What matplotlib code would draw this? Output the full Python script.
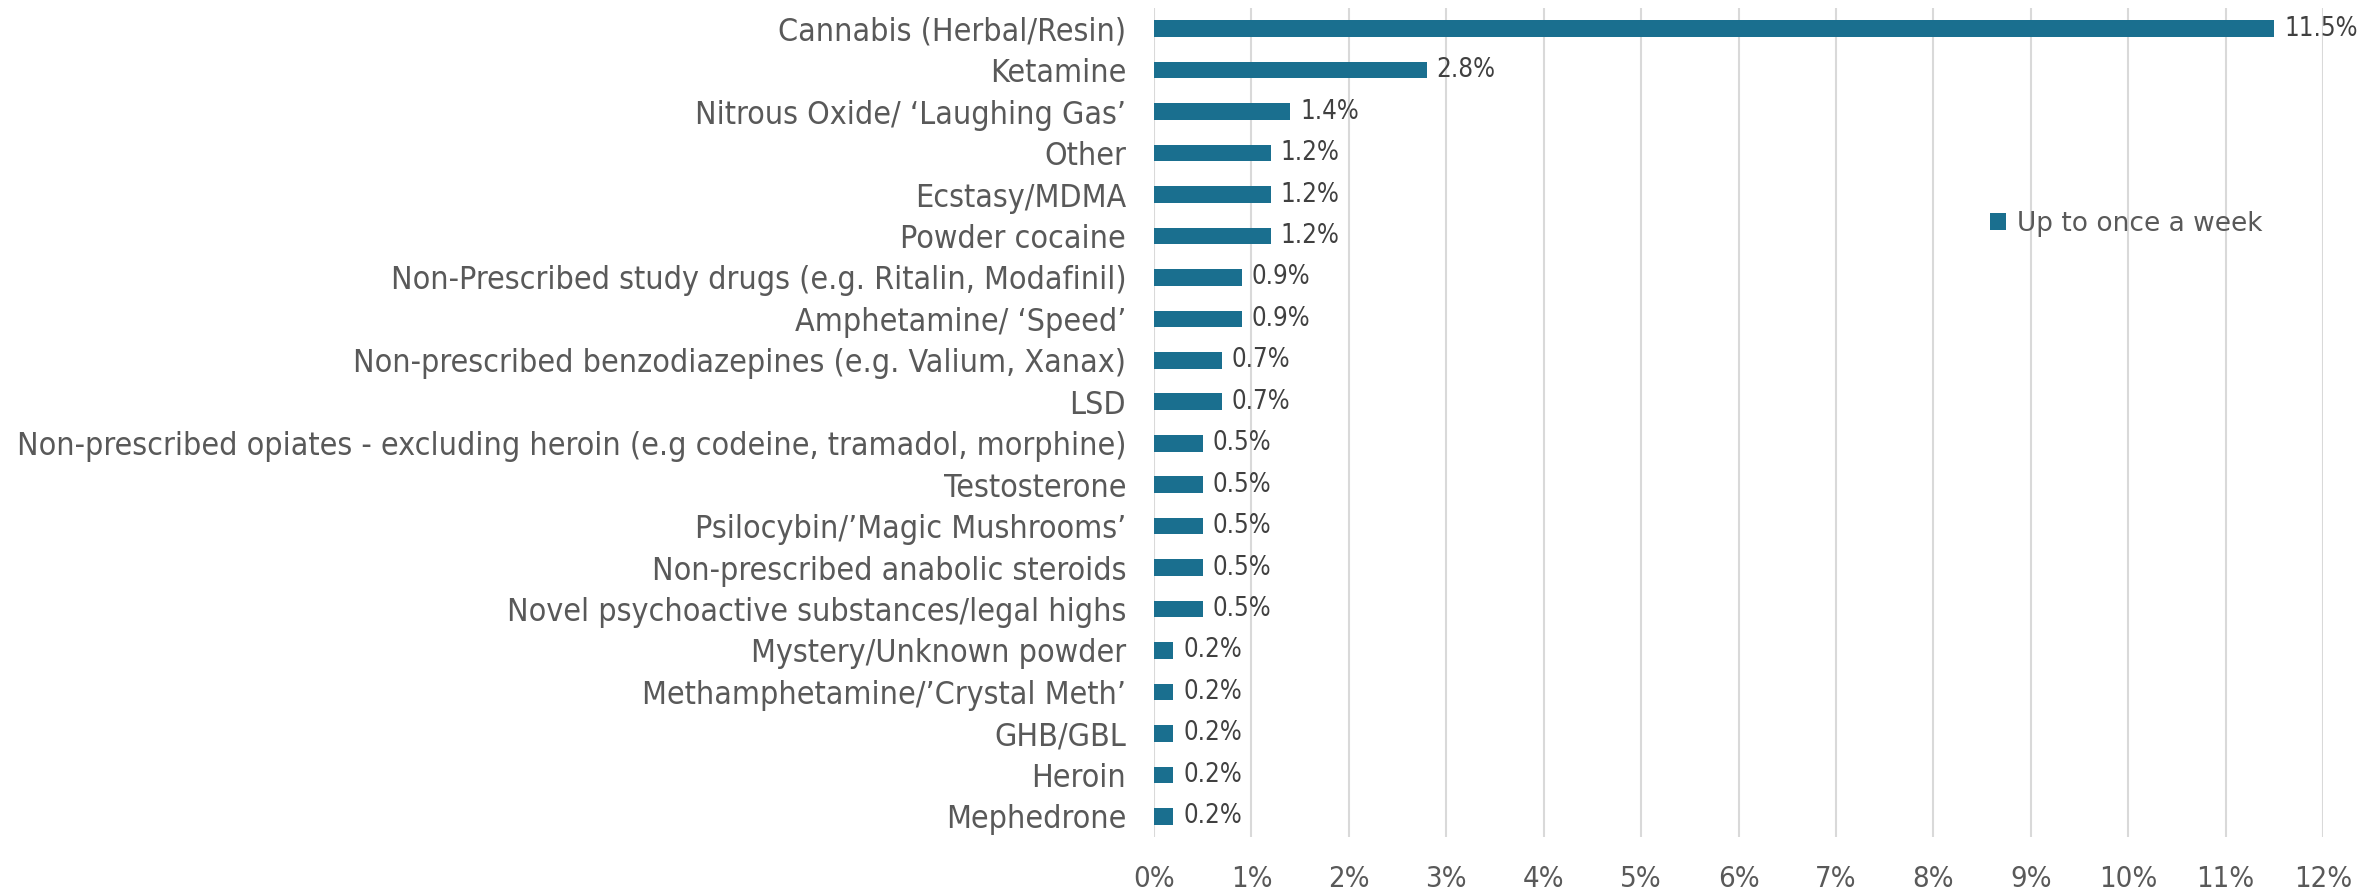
import matplotlib
matplotlib.use('Agg')
from matplotlib import pyplot as plt
import numpy as np

# Chart data (top to bottom as shown)
categories = ["Cannabis (Herbal/Resin)",
              "Ketamine",
              "Nitrous Oxide/ \u2018Laughing Gas\u2019",
              "Other",
              "Ecstasy/MDMA",
              "Powder cocaine",
              "Non-Prescribed study drugs (e.g. Ritalin, Modafinil)",
              "Amphetamine/ \u2018Speed\u2019",
              "Non-prescribed benzodiazepines (e.g. Valium, Xanax)",
              "LSD",
              "Non-prescribed opiates - excluding heroin (e.g codeine, tramadol, morphine)",
              "Testosterone",
              "Psilocybin/\u2019Magic Mushrooms\u2019",
              "Non-prescribed anabolic steroids",
              "Novel psychoactive substances/legal highs",
              "Mystery/Unknown powder",
              "Methamphetamine/\u2019Crystal Meth\u2019",
              "GHB/GBL",
              "Heroin",
              "Mephedrone"]
values = [11.5, 2.8, 1.4, 1.2, 1.2, 1.2, 0.9, 0.9, 0.7, 0.7,
          0.5, 0.5, 0.5, 0.5, 0.5, 0.2, 0.2, 0.2, 0.2, 0.2]
series_name = "Up to once a week"
x_ticks = list(range(0, 13))

bar_color = '#1a6f8f'
text_color = '#595959'

plt.rcParams['font.family'] = ['DejaVu Sans']

fig = plt.figure(figsize=(23.64, 8.89), dpi=100)
ax = fig.add_axes([1154 / 2364, 1 - 837 / 889, (2323 - 1154) / 2364, (837 - 8) / 889])

y = np.arange(len(categories))
ax.barh(y, values, height=0.4, color=bar_color, label=series_name, zorder=3)

# value labels next to each bar
for yi, v in zip(y, values):
    ax.text(v + 0.1, yi, "{:.1f}%".format(v), va='center', ha='left',
            fontsize=18.5, color='#404040', fontstretch='condensed', zorder=4)

ax.set_ylim(len(categories) - 0.5, -0.5)
ax.set_yticks(y)
ax.set_yticklabels(categories, fontsize=23, color=text_color, fontstretch='condensed')
ax.set_xlim(0, 12)
ax.set_xticks(x_ticks)
ax.set_xticklabels(["{:d}%".format(t) for t in x_ticks], fontsize=21,
                   color=text_color, fontstretch='condensed')
ax.tick_params(axis='x', length=0, pad=20)
ax.tick_params(axis='y', length=0, pad=20)
ax.grid(axis='x', color='#d9d9d9', linewidth=1.5, zorder=0)
for s in ax.spines.values():
    s.set_visible(False)

leg = ax.legend(loc='center left', bbox_to_anchor=(0.695, 0.74), frameon=False,
                fontsize=19, handlelength=0.6, handleheight=0.6, handletextpad=0.4)
for t in leg.get_texts():
    t.set_color(text_color)

fig.savefig('out.png', dpi=100)
